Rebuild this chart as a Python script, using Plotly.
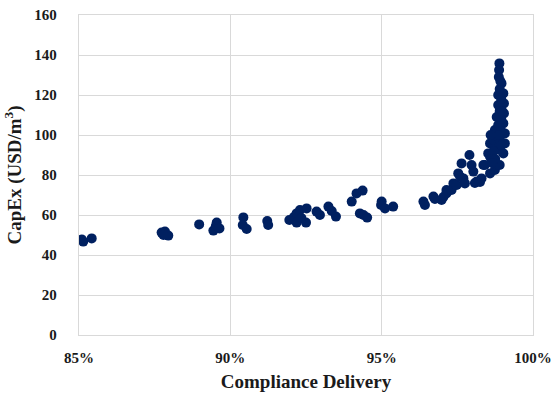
import plotly.graph_objects as go

compliance = [
    85.09, 85.14, 85.42, 87.73, 87.84, 87.95, 87.79, 88.97, 89.55, 89.52,
    89.44, 89.64, 90.43, 90.41, 90.54, 91.22, 91.25, 91.95, 92.10, 92.19,
    92.30, 92.52, 92.19, 92.50, 92.35, 92.85, 92.96, 93.24, 93.35, 93.49,
    94.01, 94.17, 94.37, 94.28, 94.40, 94.52, 94.98, 95.00, 95.11, 95.38,
    96.38, 96.43, 96.71, 96.76, 96.98, 97.04, 97.14, 97.14, 97.31, 97.37,
    97.48, 97.53, 97.59, 97.64, 97.70, 97.75, 97.90, 97.97, 98.03, 98.08,
    98.14, 98.25, 98.30, 98.36, 98.41, 98.52, 98.58, 98.58, 98.58, 98.69,
    98.69, 98.74, 98.74, 98.80, 98.80, 98.91, 98.90, 98.89, 98.88, 98.87,
    98.96, 99.02, 99.04, 99.04, 99.02, 99.07, 99.07, 99.02, 98.85, 98.85,
    98.90, 98.95, 98.90, 98.85, 98.95, 98.90, 98.70, 98.75, 98.65, 98.95,
    98.85, 98.60, 98.95, 98.92, 98.98,
]
capex = [
    47.8, 46.7, 48.3, 51.2, 51.7, 49.7, 50.0, 55.3, 56.2, 54.5,
    52.2, 53.3, 58.8, 55.0, 53.0, 57.0, 55.0, 57.5, 59.0, 60.8,
    62.5, 63.3, 56.2, 56.2, 58.5, 61.7, 60.0, 64.2, 62.0, 59.2,
    66.7, 70.8, 72.2, 60.8, 60.0, 58.7, 65.0, 66.7, 63.3, 64.2,
    66.7, 65.0, 69.2, 68.0, 67.5, 69.0, 70.8, 72.5, 72.5, 75.8,
    75.0, 80.8, 79.2, 85.8, 78.3, 75.8, 90.0, 85.0, 81.7, 76.0,
    76.7, 76.5, 78.3, 85.0, 85.0, 90.8, 80.8, 89.2, 95.8, 95.8,
    97.5, 102.5, 82.5, 85.0, 109.0, 92.5, 85.0, 135.8, 132.5, 129.0,
    125.8, 120.8, 115.8, 110.8, 105.8, 100.8, 95.8, 90.8, 120.0, 115.0,
    112.0, 118.0, 123.0, 105.0, 102.0, 98.0, 92.0, 88.0, 86.0, 95.0,
    100.0, 100.0, 108.0, 127.0, 112.0,
]

x_ticks = [0.85, 0.90, 0.95, 1.00]
x_tick_text = ["85%", "90%", "95%", "100%"]

fig = go.Figure()
fig.add_trace(go.Scatter(
    x=[v / 100 for v in compliance],
    y=capex,
    mode="markers",
    marker=dict(color="#002060", size=10, line=dict(width=0)),
    showlegend=False,
))

font_family = "Liberation Serif, Times New Roman, serif"
text_color = "#1a1a1a"
fig.update_layout(
    width=556, height=397,
    margin=dict(l=79, r=23, t=15, b=62),
    paper_bgcolor="white", plot_bgcolor="white",
    font=dict(family=font_family, color=text_color),
    xaxis=dict(
        range=[0.85, 1.0], tickvals=x_ticks, ticktext=x_tick_text,
        automargin=False,
        showgrid=True, gridcolor="#d9d9d9", gridwidth=1.3,
        showline=True, linecolor="#d9d9d9", linewidth=1.3, mirror=True,
        zeroline=False,
        ticks="outside", ticklen=9, tickcolor="rgba(0,0,0,0)",
        tickfont=dict(family=font_family, size=15, color=text_color, weight="bold"),
        title=dict(text="<b>Compliance Delivery</b>", font=dict(family=font_family, size=19, color=text_color), standoff=9),
    ),
    yaxis=dict(
        range=[0, 160], dtick=20,
        automargin=False,
        showgrid=True, gridcolor="#d9d9d9", gridwidth=1.3,
        showline=True, linecolor="#d9d9d9", linewidth=1.3, mirror=True,
        zeroline=False,
        ticks="outside", ticklen=18, tickcolor="rgba(0,0,0,0)",
        tickfont=dict(family=font_family, size=15, color=text_color, weight="bold"),
        title=dict(text="<b>CapEx (USD/m<sup>3</sup>)</b>", font=dict(family=font_family, size=19, color=text_color), standoff=7),
    ),
)

fig.write_html("out.html", config={"displayModeBar": False})

# remove the default page margin so the figure sits at the window's top-left
with open("out.html", "r", encoding="utf-8") as f:
    html = f.read()
html = html.replace("<head>", "<head><style>html,body{margin:0;padding:0;overflow:hidden;}</style>", 1)
with open("out.html", "w", encoding="utf-8") as f:
    f.write(html)
